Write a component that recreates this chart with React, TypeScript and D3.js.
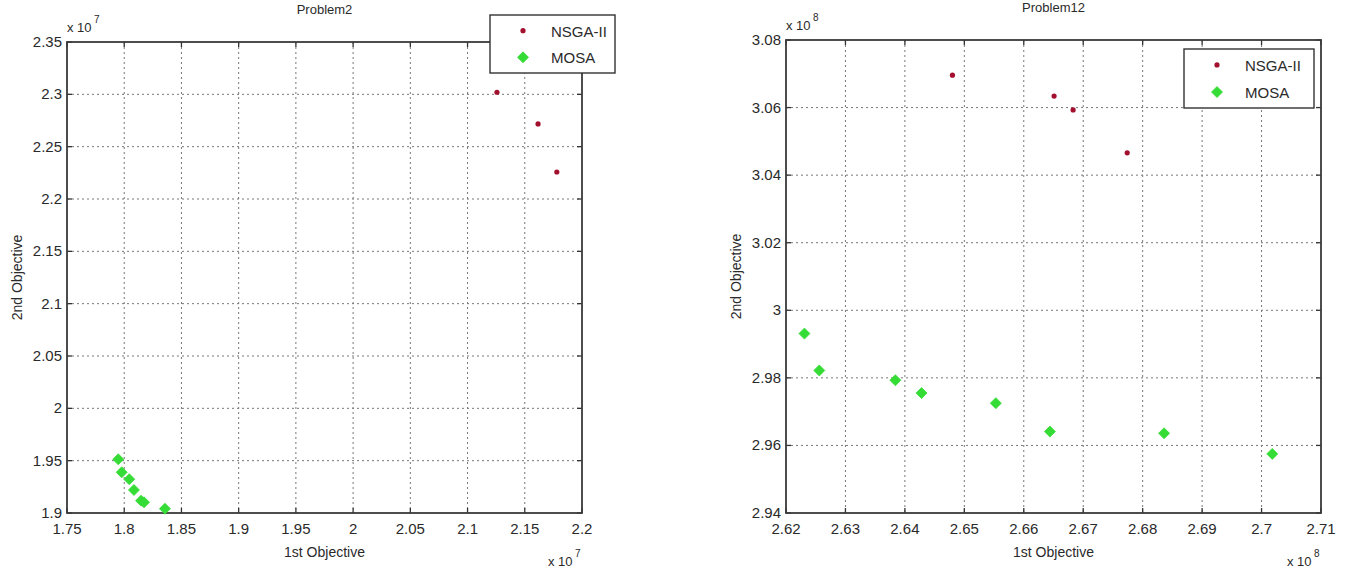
import React from 'react';
import * as d3 from 'd3';

// Problem2 (values in units of 1e7)
const p2NsgaX = [2.1257, 2.1616, 2.178];
const p2NsgaY = [2.302, 2.2717, 2.2258];
const p2MosaX = [1.7948, 1.7978, 1.8044, 1.8085, 1.8147, 1.8173, 1.8356];
const p2MosaY = [1.9513, 1.9389, 1.9323, 1.922, 1.9118, 1.9102, 1.9041];
const p2XTicks = ['1.75', '1.8', '1.85', '1.9', '1.95', '2', '2.05', '2.1', '2.15', '2.2'];
const p2YTicks = ['1.9', '1.95', '2', '2.05', '2.1', '2.15', '2.2', '2.25', '2.3', '2.35'];

// Problem12 (values in units of 1e8)
const p12NsgaX = [2.648, 2.6651, 2.6683, 2.6774];
const p12NsgaY = [3.0696, 3.0634, 3.0593, 3.0466];
const p12MosaX = [2.6231, 2.6256, 2.6384, 2.6428, 2.6553, 2.6644, 2.6836, 2.7018];
const p12MosaY = [2.9931, 2.9822, 2.9793, 2.9755, 2.9725, 2.9641, 2.9636, 2.9575];
const p12XTicks = ['2.62', '2.63', '2.64', '2.65', '2.66', '2.67', '2.68', '2.69', '2.7', '2.71'];
const p12YTicks = ['2.94', '2.96', '2.98', '3', '3.02', '3.04', '3.06', '3.08'];

const seriesNames = ['NSGA-II', 'MOSA'];

const FONT = '"Liberation Sans", Arial, sans-serif';
const TXT = '#2a2a2a';
const RED = '#a3102e';
const GREEN = '#36dc36';

const diamond = (r: number) => `M0,${-r}L${r},0L0,${r}L${-r},0Z`;

type PanelProps = {
  title: string;
  box: { x0: number; x1: number; y0: number; y1: number };
  xTicks: string[];
  yTicks: string[];
  exp: string;
  nsgaX: number[];
  nsgaY: number[];
  mosaX: number[];
  mosaY: number[];
  legend: { x: number; y: number; w: number; h: number };
};

const Panel = ({ title, box, xTicks, yTicks, exp, nsgaX, nsgaY, mosaX, mosaY, legend }: PanelProps) => {
  const xv = xTicks.map(Number);
  const yv = yTicks.map(Number);
  const x = d3.scaleLinear().domain([xv[0], xv[xv.length - 1]]).range([box.x0, box.x1]);
  const y = d3.scaleLinear().domain([yv[0], yv[yv.length - 1]]).range([box.y1, box.y0]);
  const tl = 5;
  const cx = (box.x0 + box.x1) / 2;
  const cy = (box.y0 + box.y1) / 2;

  return (
    <g fontFamily={FONT} fill={TXT}>
      {/* grid */}
      {xv.slice(1, -1).map((v, i) => (
        <line key={'gx' + i} x1={x(v)} x2={x(v)} y1={box.y0} y2={box.y1}
          stroke="#777" strokeDasharray="2,3" strokeWidth={1} />
      ))}
      {yv.slice(1, -1).map((v, i) => (
        <line key={'gy' + i} y1={y(v)} y2={y(v)} x1={box.x0} x2={box.x1}
          stroke="#777" strokeDasharray="2,3" strokeWidth={1} />
      ))}
      {/* inward ticks */}
      {xv.map((v, i) => (
        <g key={'tx' + i} stroke="#333" strokeWidth={1.3}>
          <line x1={x(v)} x2={x(v)} y1={box.y1} y2={box.y1 - tl} />
          <line x1={x(v)} x2={x(v)} y1={box.y0} y2={box.y0 + tl} />
        </g>
      ))}
      {yv.map((v, i) => (
        <g key={'ty' + i} stroke="#333" strokeWidth={1.3}>
          <line y1={y(v)} y2={y(v)} x1={box.x0} x2={box.x0 + tl} />
          <line y1={y(v)} y2={y(v)} x1={box.x1} x2={box.x1 - tl} />
        </g>
      ))}
      <rect x={box.x0} y={box.y0} width={box.x1 - box.x0} height={box.y1 - box.y0}
        fill="none" stroke="#3a3a3a" strokeWidth={1.8} />
      {/* tick labels */}
      {xTicks.map((t, i) => (
        <text key={'lx' + i} x={x(xv[i])} y={box.y1 + 21} textAnchor="middle" fontSize={15}>{t}</text>
      ))}
      {yTicks.map((t, i) => (
        <text key={'ly' + i} x={box.x0 - 5} y={y(yv[i]) + 5} textAnchor="end" fontSize={15}>{t}</text>
      ))}
      {/* exponent labels */}
      <text x={box.x0} y={box.y0 - 10} fontSize={13}>x 10</text>
      <text x={box.x0 + 27} y={box.y0 - 19} fontSize={10}>{exp}</text>
      <text x={box.x1 - 34} y={box.y1 + 53} fontSize={13}>x 10</text>
      <text x={box.x1 - 7} y={box.y1 + 44} fontSize={10}>{exp}</text>
      {/* titles */}
      <text x={cx} y={box.y0 - 28} textAnchor="middle" fontSize={13}>{title}</text>
      <text x={cx} y={box.y1 + 44} textAnchor="middle" fontSize={14}>1st Objective</text>
      <text transform={`translate(${box.x0 - 45},${cy}) rotate(-90)`} textAnchor="middle" fontSize={14}>2nd Objective</text>
      {/* data */}
      {nsgaX.map((v, i) => (
        <circle key={'n' + i} cx={x(v)} cy={y(nsgaY[i])} r={2.6} fill={RED} />
      ))}
      {mosaX.map((v, i) => (
        <path key={'m' + i} d={diamond(5.5)} transform={`translate(${x(v)},${y(mosaY[i])})`}
          fill={GREEN} stroke={GREEN} strokeWidth={0.8} />
      ))}
      {/* legend */}
      <rect x={legend.x} y={legend.y} width={legend.w} height={legend.h} fill="#fff" stroke="#333" strokeWidth={1.4} />
      <circle cx={legend.x + 33} cy={legend.y + legend.h * 0.27} r={2.6} fill={RED} />
      <path d={diamond(5.5)} transform={`translate(${legend.x + 33},${legend.y + legend.h * 0.73})`} fill={GREEN} stroke={GREEN} strokeWidth={0.8} />
      {seriesNames.map((s, i) => (
        <text key={s} x={legend.x + 61} y={legend.y + legend.h * (i === 0 ? 0.27 : 0.73) + 6} fontSize={15}>{s}</text>
      ))}
    </g>
  );
};

export default function App() {
  return (
    <svg width={1345} height={575} style={{ position: 'absolute', left: 0, top: 0, background: '#fff' }}>
      <Panel title="Problem2" box={{ x0: 67, x1: 582, y0: 42, y1: 513 }}
        xTicks={p2XTicks} yTicks={p2YTicks} exp="7"
        nsgaX={p2NsgaX} nsgaY={p2NsgaY} mosaX={p2MosaX} mosaY={p2MosaY}
        legend={{ x: 490, y: 15, w: 125, h: 58 }} />
      <Panel title="Problem12" box={{ x0: 786, x1: 1321, y0: 40, y1: 513 }}
        xTicks={p12XTicks} yTicks={p12YTicks} exp="8"
        nsgaX={p12NsgaX} nsgaY={p12NsgaY} mosaX={p12MosaX} mosaY={p12MosaY}
        legend={{ x: 1184, y: 49, w: 130, h: 59 }} />
    </svg>
  );
}
